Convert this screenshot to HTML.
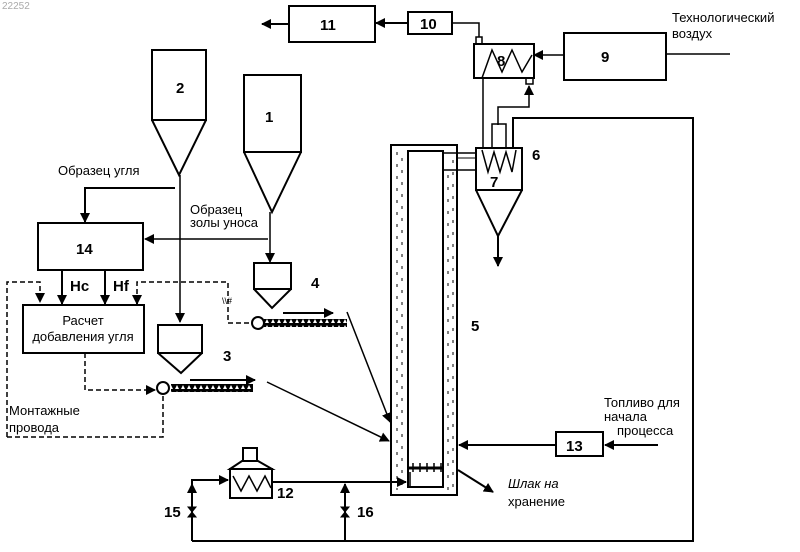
<!DOCTYPE html>
<html><head><meta charset="utf-8"><style>
html,body{margin:0;padding:0;background:#fff}
svg{display:block}
text{font-family:"Liberation Sans",sans-serif;fill:#000}
.b{font-weight:bold;font-size:15px}
.t{font-size:13px}
</style></head><body>
<svg width="800" height="552" viewBox="0 0 800 552" xmlns="http://www.w3.org/2000/svg">
<defs>
<marker id="a" markerWidth="10" markerHeight="10" refX="9" refY="5" orient="auto" markerUnits="userSpaceOnUse"><path d="M0,0 L10,5 L0,10 z" fill="#000"/></marker>
<pattern id="belt" width="6" height="6" patternUnits="userSpaceOnUse"><rect width="6" height="6" fill="#000"/><path d="M1,5 L3,1 L5,5z" fill="#fff"/></pattern>
</defs>
<text x="2" y="9" font-size="10" style="fill:#aaa">22252</text>
<g fill="none" stroke="#000" stroke-width="2">
<!-- 11,10 -->
<rect x="289" y="6" width="86" height="36"/>
<line x1="289" y1="24" x2="262" y2="24" marker-end="url(#a)"/>
<rect x="408" y="12" width="44" height="22"/>
<line x1="408" y1="23" x2="376" y2="23" marker-end="url(#a)"/>
<polyline points="452,23 479,23 479,37" stroke-width="1.5"/>
<rect x="476" y="37" width="6" height="7" stroke-width="1.5"/>
<!-- 8 -->
<rect x="474" y="44" width="60" height="34"/>
<polyline points="482,78 492,50 502,72 512,50 522,72 532,55" stroke-width="1.5"/>
<line x1="564" y1="55" x2="534" y2="55" marker-end="url(#a)" stroke-width="1.5"/>
<rect x="564" y="33" width="102" height="47"/>
<line x1="666" y1="54" x2="730" y2="54" stroke-width="1.5"/>
<rect x="526" y="78" width="7" height="6" stroke-width="1.5"/>
<polyline points="498,125 498,107 529,107 529,86" marker-end="url(#a)" stroke-width="1.5"/>
<line x1="483" y1="78" x2="483" y2="148" stroke-width="1.5"/>
<!-- cyclone 6 -->
<rect x="492" y="124" width="14" height="24" stroke-width="1.5"/>
<rect x="476" y="148" width="46" height="42"/>
<polyline points="482,150 488,172 494,152 500,172 506,152 512,172 516,150" stroke-width="1.5"/>
<polyline points="476,190 498,236 522,190"/>
<line x1="498" y1="236" x2="498" y2="266" marker-end="url(#a)"/>
<polyline points="513,148 513,118 693,118 693,541 192,541"/>
<!-- furnace -->
<rect x="391" y="145" width="66" height="350"/>
<rect x="408" y="151" width="35" height="336"/>
<line x1="443" y1="153" x2="476" y2="153" stroke-width="1.5"/>
<line x1="443" y1="170" x2="476" y2="170" stroke-width="1.5"/>
<line x1="457" y1="158" x2="476" y2="158" stroke-width="1"/>
<line x1="408" y1="468" x2="443" y2="468" stroke-width="3"/>
<polyline points="410,472 410,487 443,487" stroke-width="1.5"/>
</g>
<g stroke="#000" stroke-width="1" stroke-dasharray="3,9">
<line x1="397" y1="152" x2="397" y2="490"/><line x1="402" y1="158" x2="402" y2="490"/>
<line x1="448" y1="175" x2="448" y2="490"/><line x1="453" y1="160" x2="453" y2="490"/>
</g>
<g stroke="#000" stroke-width="1.5"><line x1="413" y1="463" x2="413" y2="472"/><line x1="420" y1="463" x2="420" y2="472"/><line x1="427" y1="463" x2="427" y2="472"/><line x1="434" y1="463" x2="434" y2="472"/><line x1="441" y1="463" x2="441" y2="472"/></g>
<g fill="none" stroke="#000" stroke-width="2">
<!-- hoppers -->
<rect x="152" y="50" width="54" height="70"/>
<polyline points="152,120 179,175 206,120"/>
<line x1="180" y1="175" x2="180" y2="322" marker-end="url(#a)" stroke-width="1.5"/>
<rect x="244" y="75" width="57" height="77"/>
<polyline points="244,152 272,212 301,152"/>
<line x1="270" y1="212" x2="270" y2="262" marker-end="url(#a)" stroke-width="1.5"/>
<rect x="254" y="263" width="37" height="26"/>
<polyline points="254,289 272,308 291,289"/>
<rect x="158" y="325" width="44" height="28"/>
<polyline points="158,353 181,373 202,353"/>
<!-- 14 -->
<polyline points="175,188 85,188 85,222" marker-end="url(#a)"/>
<rect x="38" y="223" width="105" height="47"/>
<line x1="268" y1="239" x2="145" y2="239" marker-end="url(#a)" stroke-width="1.5"/>
<line x1="62" y1="270" x2="62" y2="304" marker-end="url(#a)"/>
<line x1="105" y1="270" x2="105" y2="304" marker-end="url(#a)"/>
<rect x="23" y="305" width="121" height="48"/>
<!-- conveyors -->
<circle cx="163" cy="388" r="6"/>
<circle cx="258" cy="323" r="6"/>
<line x1="190" y1="380" x2="255" y2="380" marker-end="url(#a)"/>
<line x1="283" y1="313" x2="333" y2="313" marker-end="url(#a)"/>
<line x1="267" y1="382" x2="389" y2="441" marker-end="url(#a)" stroke-width="1.5"/>
<line x1="347" y1="312" x2="390" y2="422" marker-end="url(#a)" stroke-width="1.5"/>
<!-- dashed -->
<g stroke-dasharray="5,3" stroke-width="1.5">
<polyline points="7,437 7,282 40,282 40,302" marker-end="url(#a)"/>
<polyline points="7,437 163,437 163,395"/>
<polyline points="137,302 137,282 228,282 228,323 251,323" />
<polyline points="85,353 85,390 155,390" marker-end="url(#a)"/>
</g>
<line x1="137" y1="296" x2="137" y2="304" marker-end="url(#a)"/>
<!-- bottom -->
<rect x="230" y="469" width="42" height="29" />
<polygon points="230,469 242,461 258,461 272,469" />
<rect x="243" y="448" width="14" height="13" />
<polyline points="233,476 241,491 249,476 257,491 265,476 271,488" stroke-width="1.5"/>
<polyline points="192,541 192,480 228,480" marker-end="url(#a)"/>
<line x1="192" y1="520" x2="192" y2="484" marker-end="url(#a)"/>
<line x1="272" y1="482" x2="406" y2="482" marker-end="url(#a)"/>
<line x1="345" y1="541" x2="345" y2="484" marker-end="url(#a)"/>
<rect x="556" y="432" width="47" height="24"/>
<line x1="556" y1="445" x2="459" y2="445" marker-end="url(#a)"/>
<line x1="658" y1="445" x2="605" y2="445" marker-end="url(#a)"/>
<line x1="458" y1="470" x2="493" y2="492" marker-end="url(#a)"/>
</g>
<rect x="171" y="384" width="82" height="8" fill="url(#belt)"/>
<rect x="264" y="319" width="83" height="8" fill="url(#belt)"/>
<path d="M188,507 L196,507 L188,517 L196,517 z M341,507 L349,507 L341,517 L349,517z" fill="#000" stroke="#000"/>
<text class="b" x="320" y="30">11</text>
<text class="b" x="420" y="29">10</text>
<text class="b" x="497" y="66">8</text>
<text class="b" x="601" y="62">9</text>
<text class="b" x="532" y="160">6</text>
<text class="b" x="490" y="187" font-size="13">7</text>
<text class="b" x="176" y="93">2</text>
<text class="b" x="265" y="122">1</text>
<text class="b" x="311" y="288">4</text>
<text class="b" x="223" y="361">3</text>
<text class="b" x="471" y="331">5</text>
<text class="b" x="76" y="254">14</text>
<text class="b" x="566" y="451">13</text>
<text class="b" x="277" y="498">12</text>
<text class="b" x="164" y="517">15</text>
<text class="b" x="357" y="517">16</text>
<text class="b" x="70" y="291" font-size="12">Hc</text>
<text class="b" x="113" y="291" font-size="12">Hf</text>
<text x="222" y="304" font-size="9">\\#</text>
<text class="t" x="672" y="22">Технологический</text>
<text class="t" x="672" y="38">воздух</text>
<text class="t" x="58" y="175">Образец угля</text>
<text class="t" x="190" y="214" font-size="11">Образец</text>
<text class="t" x="190" y="227" font-size="11">золы уноса</text>
<text class="t" x="83" y="325" text-anchor="middle">Расчет</text>
<text class="t" x="83" y="341" text-anchor="middle">добавления угля</text>
<text class="t" x="9" y="415">Монтажные</text>
<text class="t" x="9" y="432">провода</text>
<text class="t" x="604" y="407" font-size="12">Топливо для</text>
<text class="t" x="604" y="421" font-size="12">начала</text>
<text class="t" x="617" y="435" font-size="12">процесса</text>
<text class="t" x="508" y="488" font-style="italic">Шлак на</text>
<text class="t" x="508" y="506">хранение</text>
</svg>
</body></html>
